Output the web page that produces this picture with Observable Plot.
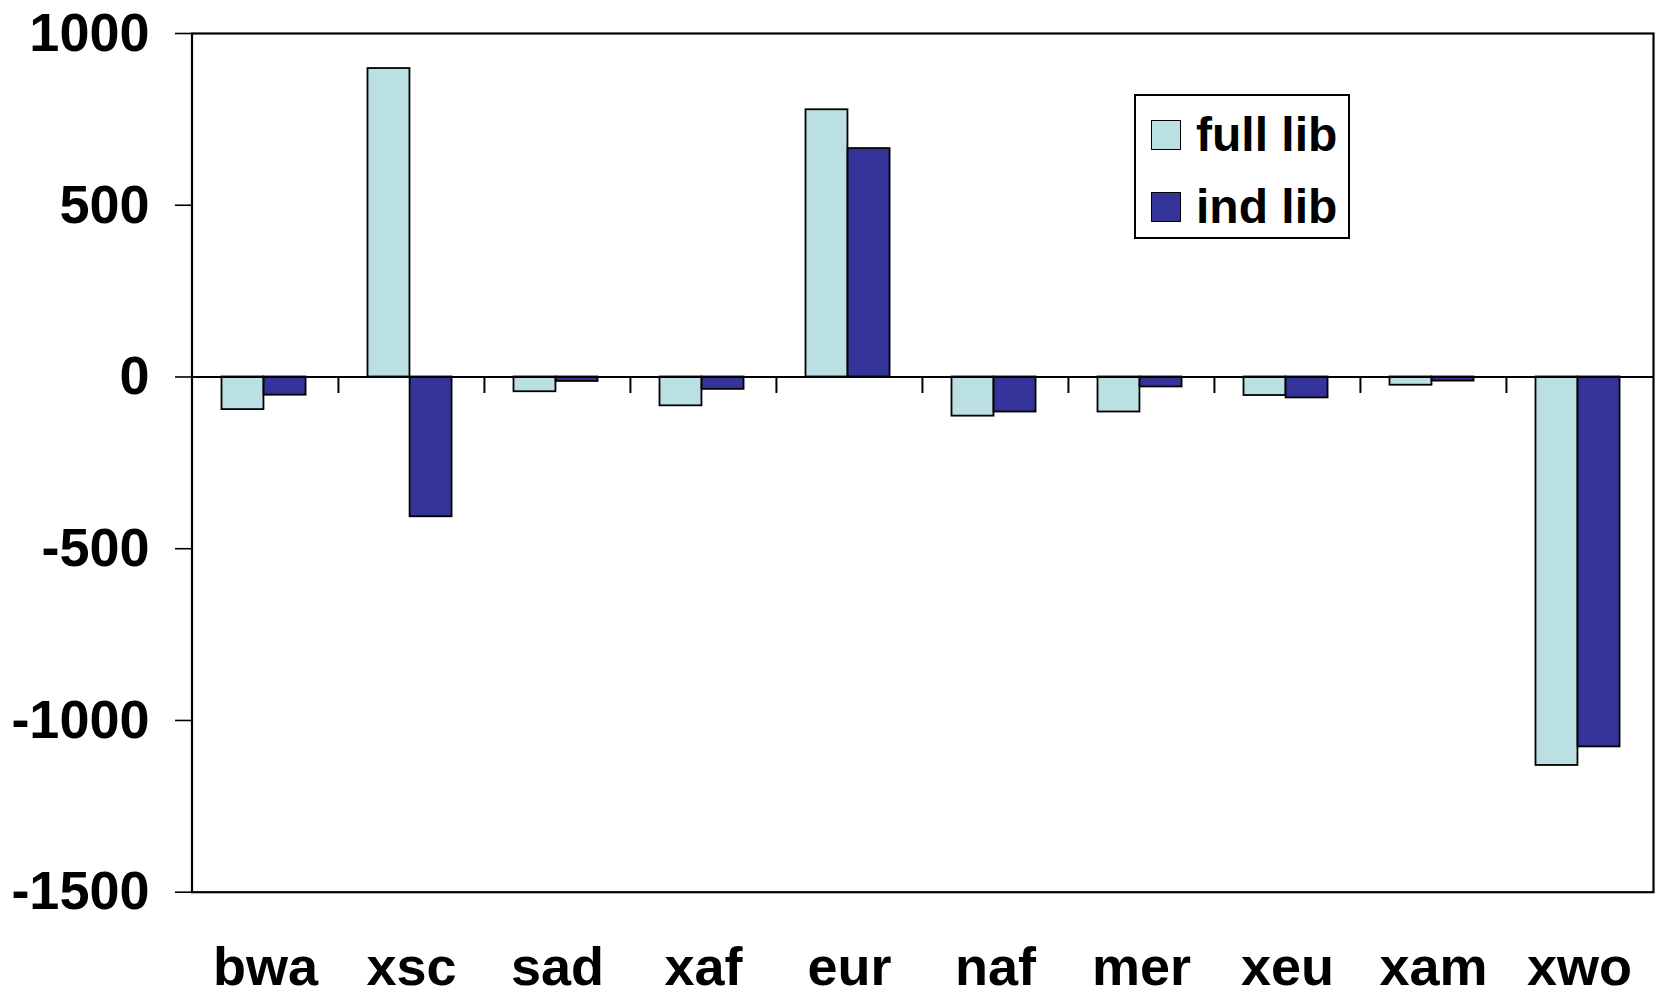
<!DOCTYPE html>
<html>
<head>
<meta charset="utf-8">
<script src="https://cdn.jsdelivr.net/npm/d3@7"></script>
<script src="https://cdn.jsdelivr.net/npm/@observablehq/plot@0.6"></script>
<style>
  html, body { margin: 0; padding: 0; background: #fff; }
  #wrap { position: relative; width: 1656px; height: 995px; font-family: "Liberation Sans", Arial, sans-serif; font-weight: bold; }
  #legend { position: absolute; left: 1134px; top: 94px; width: 212px; height: 141px; border: 2px solid #000; background: #fff; box-sizing: content-box; }
  .item { position: absolute; left: 15px; display: flex; align-items: center; font-size: 48px; line-height: 1; }
  .sw { width: 28px; height: 28px; border: 1.5px solid #000; margin-right: 15px; }
</style>
</head>
<body>
<div id="wrap"></div>
<script>
const categories = ["bwa", "xsc", "sad", "xaf", "eur", "naf", "mer", "xeu", "xam", "xwo"];
const fullLib = [-95, 898, -43, -84, 778, -114, -102, -54, -24, -1131];
const indLib = [-53, -407, -13, -36, 665, -102, -29, -61, -12, -1077];
const seriesNames = ["full lib", "ind lib"];
const seriesColors = ["#BBE0E3", "#333399"];
const yTicks = [1000, 500, 0, -500, -1000, -1500];

const rows = categories.map((c, i) => ({cat: c, full: fullLib[i], ind: indLib[i]}));

const W = 1656, H = 995;
const mL = 191.5, mR = 3, mT = 33, mB = 103.3;
const step = (W - mL - mR) / categories.length;
const barW = 42.1;
const gap = 29.5;

const fs = 54;
const chart = Plot.plot({
  width: W,
  height: H,
  marginLeft: mL,
  marginRight: mR,
  marginTop: mT,
  marginBottom: mB,
  style: {fontFamily: '"Liberation Sans", Arial, sans-serif', fontWeight: "bold", background: "#fff", overflow: "visible"},
  x: {domain: categories, padding: 0, label: null},
  y: {domain: [-1500, 1000], ticks: yTicks, label: null},
  marks: [
    Plot.ruleY(yTicks, {stroke: "#222", strokeWidth: 1.6, x1: null}),
    Plot.barY(rows, {x: "cat", y: "full", fill: seriesColors[0], stroke: "#000", strokeWidth: 1.8,
      insetLeft: gap, insetRight: step - gap - barW}),
    Plot.barY(rows, {x: "cat", y: "ind", fill: seriesColors[1], stroke: "#000", strokeWidth: 1.8,
      insetLeft: gap + barW, insetRight: step - gap - 2 * barW}),
    Plot.ruleY([0], {stroke: "#000", strokeWidth: 2.2}),
    Plot.ruleX(categories.slice(1), {x: d => d, dx: -step / 2, y1: 0, y2: -48, stroke: "#000", strokeWidth: 2}),
    Plot.frame({stroke: "#000", strokeWidth: 2.2}),
    Plot.axisY({ticks: yTicks, tickSize: 16.5, tickPadding: 26, tickFormat: d => String(d),
      fontSize: fs, fontWeight: "bold", stroke: "#000", strokeWidth: 1.6, fill: "#000", label: null}),
    Plot.axisX({tickSize: 0, tickPadding: 54, fontSize: fs, fontWeight: "bold", fill: "#000", label: null})
  ]
});

const wrap = document.getElementById("wrap");
chart.style.position = "absolute";
chart.style.left = "0px";
chart.style.top = "0px";
wrap.appendChild(chart);

const legend = document.createElement("div");
legend.id = "legend";
seriesNames.forEach((name, i) => {
  const item = document.createElement("div");
  item.className = "item";
  item.style.top = (i === 0 ? 15 : 87) + "px";
  const sw = document.createElement("div");
  sw.className = "sw";
  sw.style.background = seriesColors[i];
  const t = document.createElement("span");
  t.textContent = name;
  item.appendChild(sw);
  item.appendChild(t);
  legend.appendChild(item);
});
wrap.appendChild(legend);
</script>
</body>
</html>
